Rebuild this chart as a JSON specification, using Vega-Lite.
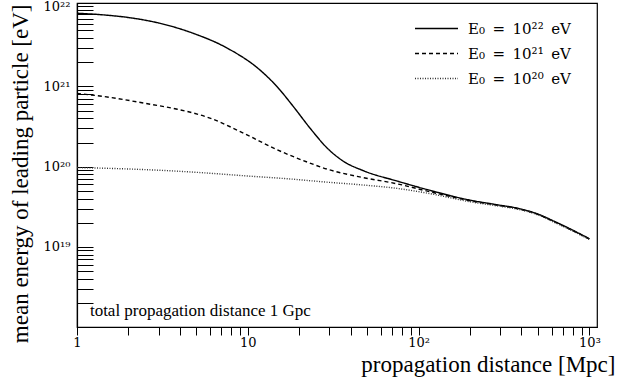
{
  "$schema": "https://vega.github.io/schema/vega-lite/v6.json",
  "width": 520,
  "height": 324,
  "autosize": "none",
  "padding": {"left": 77, "top": 3, "right": 22, "bottom": 51},
  "background": "white",
  "config": {"view": {"stroke": "#000", "strokeWidth": 1.2}, "font": "Liberation Serif"},
  "datasets": {
    "curves": [
      {"d": 1, "E": 8.2e21, "s": "E\u2080\u2002=\u200210\u00b2\u00b2\u2002eV"},
      {"d": 1.5, "E": 7.75e21, "s": "E\u2080\u2002=\u200210\u00b2\u00b2\u2002eV"},
      {"d": 2, "E": 7.25e21, "s": "E\u2080\u2002=\u200210\u00b2\u00b2\u2002eV"},
      {"d": 3, "E": 6.2e21, "s": "E\u2080\u2002=\u200210\u00b2\u00b2\u2002eV"},
      {"d": 4.8, "E": 4.6e21, "s": "E\u2080\u2002=\u200210\u00b2\u00b2\u2002eV"},
      {"d": 7.6, "E": 3.0e21, "s": "E\u2080\u2002=\u200210\u00b2\u00b2\u2002eV"},
      {"d": 11.8, "E": 1.6e21, "s": "E\u2080\u2002=\u200210\u00b2\u00b2\u2002eV"},
      {"d": 14.8, "E": 1.0e21, "s": "E\u2080\u2002=\u200210\u00b2\u00b2\u2002eV"},
      {"d": 18.5, "E": 5.6e20, "s": "E\u2080\u2002=\u200210\u00b2\u00b2\u2002eV"},
      {"d": 23.2, "E": 3.0e20, "s": "E\u2080\u2002=\u200210\u00b2\u00b2\u2002eV"},
      {"d": 29.2, "E": 1.7e20, "s": "E\u2080\u2002=\u200210\u00b2\u00b2\u2002eV"},
      {"d": 36, "E": 1.18e20, "s": "E\u2080\u2002=\u200210\u00b2\u00b2\u2002eV"},
      {"d": 47.5, "E": 8.9e19, "s": "E\u2080\u2002=\u200210\u00b2\u00b2\u2002eV"},
      {"d": 75, "E": 6.6e19, "s": "E\u2080\u2002=\u200210\u00b2\u00b2\u2002eV"},
      {"d": 117, "E": 5.05e19, "s": "E\u2080\u2002=\u200210\u00b2\u00b2\u2002eV"},
      {"d": 200, "E": 3.82e19, "s": "E\u2080\u2002=\u200210\u00b2\u00b2\u2002eV"},
      {"d": 280, "E": 3.38e19, "s": "E\u2080\u2002=\u200210\u00b2\u00b2\u2002eV"},
      {"d": 393, "E": 2.98e19, "s": "E\u2080\u2002=\u200210\u00b2\u00b2\u2002eV"},
      {"d": 500, "E": 2.56e19, "s": "E\u2080\u2002=\u200210\u00b2\u00b2\u2002eV"},
      {"d": 614, "E": 2.11e19, "s": "E\u2080\u2002=\u200210\u00b2\u00b2\u2002eV"},
      {"d": 800, "E": 1.61e19, "s": "E\u2080\u2002=\u200210\u00b2\u00b2\u2002eV"},
      {"d": 1000, "E": 1.26e19, "s": "E\u2080\u2002=\u200210\u00b2\u00b2\u2002eV"},

      {"d": 1, "E": 8.2e20, "s": "E\u2080\u2002=\u200210\u00b2\u00b9\u2002eV"},
      {"d": 1.57, "E": 7.3e20, "s": "E\u2080\u2002=\u200210\u00b2\u00b9\u2002eV"},
      {"d": 2.47, "E": 6.2e20, "s": "E\u2080\u2002=\u200210\u00b2\u00b9\u2002eV"},
      {"d": 3.87, "E": 5.2e20, "s": "E\u2080\u2002=\u200210\u00b2\u00b9\u2002eV"},
      {"d": 4.84, "E": 4.65e20, "s": "E\u2080\u2002=\u200210\u00b2\u00b9\u2002eV"},
      {"d": 6.06, "E": 4.0e20, "s": "E\u2080\u2002=\u200210\u00b2\u00b9\u2002eV"},
      {"d": 9.5, "E": 2.6e20, "s": "E\u2080\u2002=\u200210\u00b2\u00b9\u2002eV"},
      {"d": 14.9, "E": 1.62e20, "s": "E\u2080\u2002=\u200210\u00b2\u00b9\u2002eV"},
      {"d": 23.3, "E": 1.1e20, "s": "E\u2080\u2002=\u200210\u00b2\u00b9\u2002eV"},
      {"d": 29.2, "E": 9.3e19, "s": "E\u2080\u2002=\u200210\u00b2\u00b9\u2002eV"},
      {"d": 47.5, "E": 7.3e19, "s": "E\u2080\u2002=\u200210\u00b2\u00b9\u2002eV"},
      {"d": 75, "E": 6.1e19, "s": "E\u2080\u2002=\u200210\u00b2\u00b9\u2002eV"},
      {"d": 117, "E": 4.85e19, "s": "E\u2080\u2002=\u200210\u00b2\u00b9\u2002eV"},
      {"d": 200, "E": 3.76e19, "s": "E\u2080\u2002=\u200210\u00b2\u00b9\u2002eV"},
      {"d": 280, "E": 3.34e19, "s": "E\u2080\u2002=\u200210\u00b2\u00b9\u2002eV"},
      {"d": 393, "E": 2.95e19, "s": "E\u2080\u2002=\u200210\u00b2\u00b9\u2002eV"},
      {"d": 500, "E": 2.53e19, "s": "E\u2080\u2002=\u200210\u00b2\u00b9\u2002eV"},
      {"d": 614, "E": 2.08e19, "s": "E\u2080\u2002=\u200210\u00b2\u00b9\u2002eV"},
      {"d": 800, "E": 1.59e19, "s": "E\u2080\u2002=\u200210\u00b2\u00b9\u2002eV"},
      {"d": 1000, "E": 1.25e19, "s": "E\u2080\u2002=\u200210\u00b2\u00b9\u2002eV"},

      {"d": 1, "E": 9.75e19, "s": "E\u2080\u2002=\u200210\u00b2\u2070\u2002eV"},
      {"d": 2, "E": 9.35e19, "s": "E\u2080\u2002=\u200210\u00b2\u2070\u2002eV"},
      {"d": 3.09, "E": 9.0e19, "s": "E\u2080\u2002=\u200210\u00b2\u2070\u2002eV"},
      {"d": 5, "E": 8.5e19, "s": "E\u2080\u2002=\u200210\u00b2\u2070\u2002eV"},
      {"d": 9.5, "E": 7.7e19, "s": "E\u2080\u2002=\u200210\u00b2\u2070\u2002eV"},
      {"d": 18, "E": 7.0e19, "s": "E\u2080\u2002=\u200210\u00b2\u2070\u2002eV"},
      {"d": 29.2, "E": 6.4e19, "s": "E\u2080\u2002=\u200210\u00b2\u2070\u2002eV"},
      {"d": 47.5, "E": 5.9e19, "s": "E\u2080\u2002=\u200210\u00b2\u2070\u2002eV"},
      {"d": 75, "E": 5.35e19, "s": "E\u2080\u2002=\u200210\u00b2\u2070\u2002eV"},
      {"d": 117, "E": 4.6e19, "s": "E\u2080\u2002=\u200210\u00b2\u2070\u2002eV"},
      {"d": 200, "E": 3.65e19, "s": "E\u2080\u2002=\u200210\u00b2\u2070\u2002eV"},
      {"d": 280, "E": 3.27e19, "s": "E\u2080\u2002=\u200210\u00b2\u2070\u2002eV"},
      {"d": 393, "E": 2.9e19, "s": "E\u2080\u2002=\u200210\u00b2\u2070\u2002eV"},
      {"d": 500, "E": 2.5e19, "s": "E\u2080\u2002=\u200210\u00b2\u2070\u2002eV"},
      {"d": 614, "E": 2.05e19, "s": "E\u2080\u2002=\u200210\u00b2\u2070\u2002eV"},
      {"d": 800, "E": 1.57e19, "s": "E\u2080\u2002=\u200210\u00b2\u2070\u2002eV"},
      {"d": 1000, "E": 1.23e19, "s": "E\u2080\u2002=\u200210\u00b2\u2070\u2002eV"}
    ],
    "note": [
      {"d": 1.19, "E": 1.36e18, "text": "total propagation distance 1 Gpc"}
    ]
  },
  "encoding": {
    "x": {
      "field": "d",
      "type": "quantitative",
      "scale": {"type": "log", "domain": [1, 1107], "nice": false},
      "axis": {
        "title": "propagation distance [Mpc]",
        "values": [1, 2, 3, 4, 5, 6, 7, 8, 9, 10, 20, 30, 40, 50, 60, 70, 80, 90, 100, 200, 300, 400, 500, 600, 700, 800, 900, 1000],
        "ticks": true,
        "tickSize": 8,
        "labelExpr": "datum.value == 1 ? '1' : datum.value == 10 ? '10' : datum.value == 100 ? '10\u00b2' : datum.value == 1000 ? '10\u00b3' : ''",
        "labelFont": "DejaVu Serif",
        "labelFontSize": 13,
        "labelColor": "#000",
        "labelBaseline": "top",
        "labelPadding": 1,
        "labelFlush": false,
        "labelOverlap": false,
        "labelBound": false,
        "grid": false,
        "domainColor": "#000",
        "domainWidth": 1.2,
        "tickColor": "#000",
        "tickWidth": 1,
        "titleFont": "Liberation Serif",
        "titleFontSize": 23,
        "titleFontWeight": "normal",
        "titleColor": "#000",
        "titleAlign": "right",
        "titleAnchor": "end",
        "titleBaseline": "alphabetic",
        "titleX": 538,
        "titleY": 44,
        "encode": {
          "ticks": {
            "update": {
              "y2": {"signal": "abs(log(datum.value)/LN10 - round(log(datum.value)/LN10)) < 0.001 ? -8 : -4"}
            }
          }
        }
      }
    },
    "y": {
      "field": "E",
      "type": "quantitative",
      "scale": {"type": "log", "domain": [1e18, 1.1e22], "nice": false},
      "axis": {
        "title": "mean energy of leading particle [eV]",
        "values": [2e18, 3e18, 4e18, 5e18, 6e18, 7e18, 8e18, 9e18, 1e19, 2e19, 3e19, 4e19, 5e19, 6e19, 7e19, 8e19, 9e19, 1e20, 2e20, 3e20, 4e20, 5e20, 6e20, 7e20, 8e20, 9e20, 1e21, 2e21, 3e21, 4e21, 5e21, 6e21, 7e21, 8e21, 9e21, 1e22],
        "ticks": true,
        "tickSize": -16,
        "labelExpr": "datum.value == 1e19 ? '10\u00b9\u2079' : datum.value == 1e20 ? '10\u00b2\u2070' : datum.value == 1e21 ? '10\u00b2\u00b9' : datum.value == 1e22 ? '10\u00b2\u00b2' : ''",
        "labelFont": "DejaVu Serif",
        "labelFontSize": 13,
        "labelColor": "#000",
        "labelBaseline": "middle",
        "labelAlign": "right",
        "labelPadding": 23,
        "labelFlush": false,
        "labelOverlap": false,
        "labelBound": false,
        "grid": false,
        "domainColor": "#000",
        "domainWidth": 1.2,
        "tickColor": "#000",
        "tickWidth": 1,
        "titleFont": "Liberation Serif",
        "titleFontSize": 23,
        "titleFontWeight": "normal",
        "titleColor": "#000",
        "titleAngle": 270,
        "titleAlign": "right",
        "titleBaseline": "alphabetic",
        "titleX": -50,
        "titleY": 1,
        "encode": {
          "ticks": {
            "update": {
              "x2": {"signal": "abs(log(datum.value)/LN10 - round(log(datum.value)/LN10)) < 0.001 ? 16 : 8"}
            }
          }
        }
      }
    }
  },
  "layer": [
    {
      "data": {"name": "curves"},
      "mark": {"type": "line", "interpolate": "monotone", "strokeWidth": 1.4},
      "encoding": {
        "color": {
          "field": "s",
          "type": "nominal",
          "scale": {
            "domain": ["E\u2080\u2002=\u200210\u00b2\u00b2\u2002eV", "E\u2080\u2002=\u200210\u00b2\u00b9\u2002eV", "E\u2080\u2002=\u200210\u00b2\u2070\u2002eV"],
            "range": ["#000000", "#000000", "#333333"]
          },
          "legend": {
            "orient": "none", "legendX": 352, "legendY": 18, "title": null,
            "symbolType": "M-4.3,0H4.3", "symbolSize": 100, "symbolStrokeWidth": 1.4,
            "labelFont": "DejaVu Serif", "labelFontSize": 15, "labelColor": "#000",
            "labelOffset": 24, "rowPadding": 9, "padding": 0, "labelLimit": 300
          }
        },
        "strokeDash": {
          "field": "s",
          "type": "nominal",
          "scale": {
            "domain": ["E\u2080\u2002=\u200210\u00b2\u00b2\u2002eV", "E\u2080\u2002=\u200210\u00b2\u00b9\u2002eV", "E\u2080\u2002=\u200210\u00b2\u2070\u2002eV"],
            "range": [[1, 0], [4, 3], [1, 1.5]]
          },
          "legend": {
            "orient": "none", "legendX": 352, "legendY": 18, "title": null,
            "symbolType": "M-4.3,0H4.3", "symbolSize": 100, "symbolStrokeWidth": 1.4,
            "labelFont": "DejaVu Serif", "labelFontSize": 15, "labelColor": "#000",
            "labelOffset": 24, "rowPadding": 9, "padding": 0, "labelLimit": 300
          }
        }
      }
    },
    {
      "data": {"name": "note"},
      "mark": {"type": "text", "align": "left", "baseline": "alphabetic", "fontSize": 17, "font": "Liberation Serif", "color": "#000"},
      "encoding": {
        "text": {"field": "text", "type": "nominal"}
      }
    }
  ]
}
